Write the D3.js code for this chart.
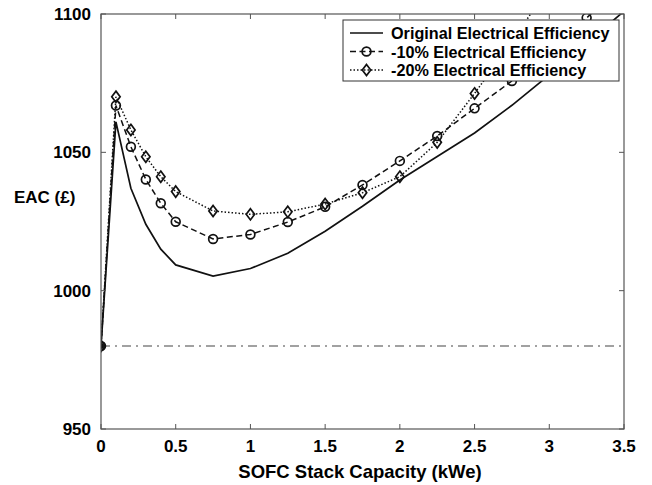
<!DOCTYPE html>
<html><head><meta charset="utf-8">
<script src="https://cdn.jsdelivr.net/npm/d3@7"></script>
<style>body{margin:0;background:#fff}svg{display:block}text{font-family:"Liberation Sans",Arial,sans-serif;font-weight:bold;fill:#000}</style>
</head><body><svg id="c" width="652" height="485"></svg>
<script>
const capacity = [0, 0.1, 0.2, 0.3, 0.4, 0.5, 0.75, 1, 1.25, 1.5, 1.75, 2, 2.25, 2.5, 2.75, 3, 3.25, 3.5];
const original = [980, 1061, 1037, 1024, 1015, 1009.3, 1005.3, 1008, 1013.5, 1021.5, 1030.5, 1040, 1048.5, 1057, 1067, 1078, 1089.5, 1101];
const minus10 = [980, 1066.9, 1052, 1040.2, 1031.6, 1024.9, 1018.7, 1020.3, 1024.8, 1030.3, 1038.2, 1046.9, 1055.9, 1065.9, 1075.8, 1087, 1098.6, 1111];
const minus20 = [980, 1070.1, 1058.1, 1048.4, 1041.2, 1035.8, 1028.8, 1027.6, 1028.5, 1031.3, 1035.4, 1041.2, 1053.6, 1071.3, 1090, 1110, 1130, 1150];
const baseline = 980;
const xTicks = [0, 0.5, 1, 1.5, 2, 2.5, 3, 3.5];
const yTicks = [950, 1000, 1050, 1100];
const seriesNames = ["Original Electrical Efficiency", "-10% Electrical Efficiency", "-20% Electrical Efficiency"];

const svg = d3.select("#c");
const L = 101, R = 624, T = 14, B = 429;
const x = d3.scaleLinear().domain([0, 3.5]).range([L, R]);
const y = d3.scaleLinear().domain([950, 1100]).range([B, T]);

svg.append("defs").append("clipPath").attr("id","clip").append("rect")
  .attr("x", L).attr("y", T).attr("width", R-L).attr("height", B-T);

const series = [
  {vals: original, dash: null, marker: null},
  {vals: minus10, dash: "6,3.5", marker: "circle"},
  {vals: minus20, dash: "1.5,2", marker: "diamond"}
];

const plot = svg.append("g").attr("clip-path","url(#clip)");
plot.append("line").attr("x1", x(0)).attr("x2", x(3.5)).attr("y1", y(baseline)).attr("y2", y(baseline))
  .attr("stroke","#444").attr("stroke-width",1.1).attr("stroke-dasharray","9,5,2,5");

const line = d3.line().x((d,i)=>x(capacity[i])).y(d=>y(d));
const diamond = (cx, cy, r) => `M${cx},${cy-r}L${cx+r*0.75},${cy}L${cx},${cy+r}L${cx-r*0.75},${cy}Z`;

function drawMarker(g, type, cx, cy) {
  if (type === "circle") g.append("circle").attr("cx",cx).attr("cy",cy).attr("r",4.4)
    .attr("fill","none").attr("stroke","#111").attr("stroke-width",1.7);
  else if (type === "diamond") g.append("path").attr("d", diamond(cx, cy, 5.6))
    .attr("fill","none").attr("stroke","#111").attr("stroke-width",1.7);
}

series.forEach(s => {
  plot.append("path").datum(s.vals).attr("d", line).attr("fill","none")
    .attr("stroke","#111").attr("stroke-width", s.marker ? 1.5 : 1.7)
    .attr("stroke-dasharray", s.dash);
});
series.forEach(s => {
  if (!s.marker) return;
  s.vals.forEach((v,i) => drawMarker(plot, s.marker, x(capacity[i]), y(v)));
});
plot.append("circle").attr("cx", x(0)).attr("cy", y(baseline)).attr("r", 3).attr("fill","#111");

svg.append("rect").attr("x",L).attr("y",T).attr("width",R-L).attr("height",B-T)
  .attr("fill","none").attr("stroke","#555").attr("stroke-width",1.2);

const tk = 5;
xTicks.forEach(t => {
  svg.append("line").attr("x1",x(t)).attr("x2",x(t)).attr("y1",B).attr("y2",B-tk).attr("stroke","#555");
  svg.append("line").attr("x1",x(t)).attr("x2",x(t)).attr("y1",T).attr("y2",T+tk).attr("stroke","#555");
  svg.append("text").attr("x",x(t)).attr("y",B+23).attr("text-anchor","middle").attr("font-size",17).text(t);
});
yTicks.forEach(t => {
  svg.append("line").attr("x1",L).attr("x2",L+tk).attr("y1",y(t)).attr("y2",y(t)).attr("stroke","#555");
  svg.append("line").attr("x1",R).attr("x2",R-tk).attr("y1",y(t)).attr("y2",y(t)).attr("stroke","#555");
  svg.append("text").attr("x",L-10).attr("y",y(t)+6).attr("text-anchor","end").attr("font-size",17).text(t);
});

svg.append("text").attr("x", 360).attr("y", 478).attr("text-anchor","middle").attr("font-size",18.5)
  .text("SOFC Stack Capacity (kWe)");
svg.append("text").attr("x", 14).attr("y", 203).attr("font-size",17).text("EAC (£)");

const lg = svg.append("g");
lg.append("rect").attr("x",343).attr("y",20).attr("width",276).attr("height",61)
  .attr("fill","#fff").attr("stroke","#333").attr("stroke-width",1);
series.forEach((s,i) => {
  const cy = 33 + i*18.5;
  lg.append("line").attr("x1",350).attr("x2",383).attr("y1",cy).attr("y2",cy)
    .attr("stroke","#111").attr("stroke-width",1.5).attr("stroke-dasharray", s.dash);
  if (s.marker) drawMarker(lg, s.marker, 366.5, cy);
  lg.append("text").attr("x",391).attr("y",cy+6).attr("font-size",16.2).text(seriesNames[i]);
});
</script></body></html>
